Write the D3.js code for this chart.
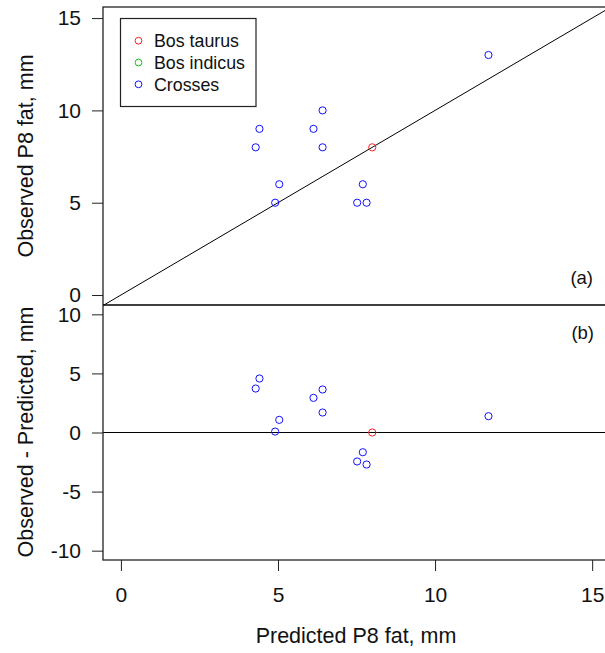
<!DOCTYPE html>
<html>
<head>
<meta charset="utf-8">
<script src="https://d3js.org/d3.v7.min.js"></script>
<style>
  body { margin: 0; background: #fff; }
  text { font-family: Arial, "Liberation Sans", sans-serif; fill: #111; }
</style>
</head>
<body>
<div id="vis"></div>
<script>
  // values
  var predicted = [4.29, 4.41, 5.04, 4.91, 11.70, 6.42, 6.13, 6.42, 8.0, 7.70, 7.52, 7.82]
  var observed  = [8, 9, 6, 5, 13, 10, 9, 8, 8, 6, 5, 5]
  var residual  = [3.72, 4.57, 1.07, 0.08, 1.38, 3.64, 2.93, 1.69, 0, -1.67, -2.45, -2.71]
  var group     = ['Crosses', 'Crosses', 'Crosses', 'Crosses', 'Crosses', 'Crosses',
                   'Crosses', 'Crosses', 'Bos taurus', 'Crosses', 'Crosses', 'Crosses']

  var groups = ['Bos taurus', 'Bos indicus', 'Crosses']
  var groupColors = ['#ff2020', '#10cc10', '#1010ff']

  var xTicks = [0, 5, 10, 15]
  var yTicksTop = [0, 5, 10, 15]
  var yTicksBottom = [-10, -5, 0, 5, 10]

  var W = 605, H = 653
  var left = 103, right = 611

  var svg = d3.select('#vis').append('svg')
    .attr('width', W)
    .attr('height', H)

  var color = d3.scaleOrdinal().domain(groups).range(groupColors)

  var x = d3.scaleLinear().domain([-0.57, 15.6]).range([left, right])
  var yTop = d3.scaleLinear().domain([-0.54, 15.6]).range([305, 7])
  var yBot = d3.scaleLinear().domain([-10.79, 10.79]).range([560, 305])

  // plain hyphen for negative numbers, like the original
  var fmt = function(d) { return String(d) }

  var pts = predicted.map(function(d, i) {
    return {x: d, obs: observed[i], res: residual[i], g: group[i]}
  })

  svg.append('clipPath').attr('id', 'clipTop')
    .append('rect').attr('x', left).attr('y', 7).attr('width', W - left).attr('height', 298)

  // ---- panel (a)
  svg.append('line')
    .attr('clip-path', 'url(#clipTop)')
    .attr('x1', x(-1)).attr('y1', yTop(-1))
    .attr('x2', x(16)).attr('y2', yTop(16))
    .attr('stroke', '#000').attr('stroke-width', 1)

  svg.append('g').selectAll('circle')
    .data(pts)
    .enter()
    .append('circle')
    .attr('cx', function(d) { return x(d.x) })
    .attr('cy', function(d) { return yTop(d.obs) })
    .attr('r', 3.6)
    .attr('fill', 'none')
    .attr('stroke', function(d) { return color(d.g) })
    .attr('stroke-width', 1)

  var axTop = svg.append('g')
    .attr('transform', 'translate(' + left + ',0)')
    .call(d3.axisLeft(yTop).tickValues(yTicksTop).tickSize(11).tickPadding(11).tickFormat(fmt))

  // ---- panel (b)
  svg.append('line')
    .attr('x1', left).attr('x2', W)
    .attr('y1', yBot(0)).attr('y2', yBot(0))
    .attr('stroke', '#000').attr('stroke-width', 1)

  svg.append('g').selectAll('circle')
    .data(pts)
    .enter()
    .append('circle')
    .attr('cx', function(d) { return x(d.x) })
    .attr('cy', function(d) { return yBot(d.res) })
    .attr('r', 3.6)
    .attr('fill', 'none')
    .attr('stroke', function(d) { return color(d.g) })
    .attr('stroke-width', 1)

  var axBot = svg.append('g')
    .attr('transform', 'translate(' + left + ',0)')
    .call(d3.axisLeft(yBot).tickValues(yTicksBottom).tickSize(11).tickPadding(11).tickFormat(fmt))

  var axX = svg.append('g')
    .attr('transform', 'translate(0,560)')
    .call(d3.axisBottom(x).tickValues(xTicks).tickSize(11).tickPadding(16).tickFormat(fmt))

  ;[axTop, axBot, axX].forEach(function(ax) {
    ax.select('.domain').remove()
    ax.selectAll('.tick line').attr('stroke', '#222')
    ax.selectAll('.tick text')
      .style('font-size', '21px')
      .style('font-family', 'Arial, "Liberation Sans", sans-serif')
      .attr('fill', '#111')
  })

  // frames
  svg.append('rect')
    .attr('x', left).attr('y', 7).attr('width', W - left + 10).attr('height', 553)
    .attr('fill', 'none').attr('stroke', '#222').attr('stroke-width', 1.3)
  svg.append('line')
    .attr('x1', left).attr('x2', W).attr('y1', 305).attr('y2', 305)
    .attr('stroke', '#000').attr('stroke-width', 1.5)

  // panel labels
  svg.append('text').attr('x', 593).attr('y', 284).attr('text-anchor', 'end')
    .style('font-size', '18.5px').text('(a)')
  svg.append('text').attr('x', 594).attr('y', 339).attr('text-anchor', 'end')
    .style('font-size', '18.5px').text('(b)')

  // axis titles
  svg.append('text')
    .attr('transform', 'translate(33,156)rotate(-90)')
    .attr('text-anchor', 'middle')
    .style('font-size', '21.5px')
    .text('Observed P8 fat, mm')
  svg.append('text')
    .attr('transform', 'translate(33,432)rotate(-90)')
    .attr('text-anchor', 'middle')
    .style('font-size', '21.5px')
    .text('Observed - Predicted, mm')
  svg.append('text')
    .attr('x', 356).attr('y', 643)
    .attr('text-anchor', 'middle')
    .style('font-size', '21.5px')
    .text('Predicted P8 fat, mm')

  // legend
  var legend = svg.append('g')
  legend.append('rect')
    .attr('x', 120.5).attr('y', 18.5).attr('width', 135.5).attr('height', 88)
    .attr('fill', '#fff').attr('stroke', '#222').attr('stroke-width', 1.2)
  var rows = legend.selectAll('g.row')
    .data(groups)
    .enter()
    .append('g')
    .attr('class', 'row')
    .attr('transform', function(d, i) { return 'translate(0,' + (40.7 + i * 21.8) + ')' })
  rows.append('circle')
    .attr('cx', 138.5).attr('cy', 0).attr('r', 3.4)
    .attr('fill', 'none')
    .attr('stroke', function(d) { return color(d) })
    .attr('stroke-width', 1)
  rows.append('text')
    .attr('x', 154).attr('y', 6.3)
    .style('font-size', '17.8px')
    .text(function(d) { return d })
</script>
</body>
</html>
